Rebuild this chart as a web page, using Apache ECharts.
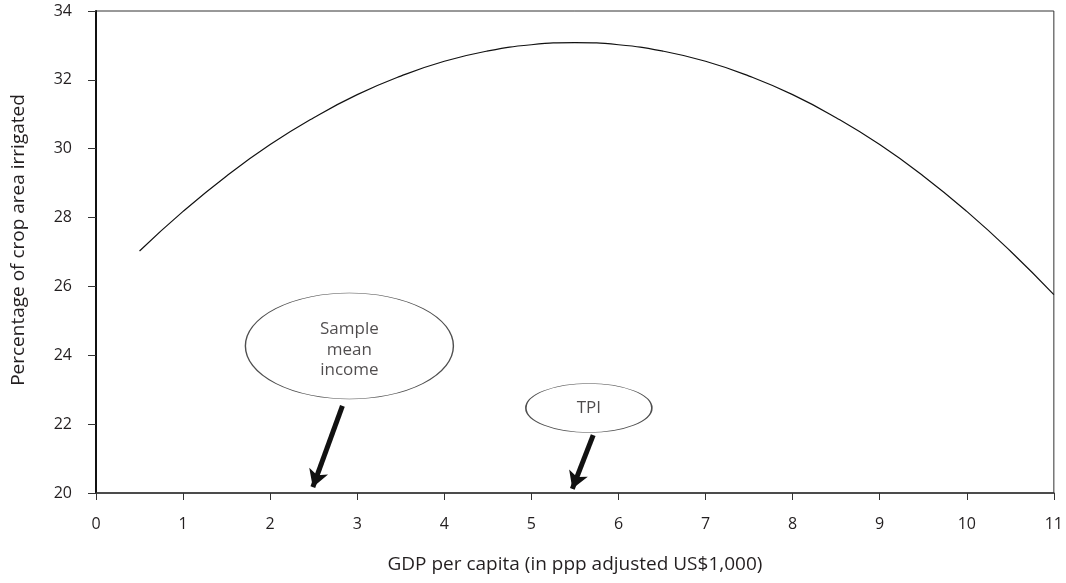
<!DOCTYPE html>
<html>
<head>
<meta charset="utf-8">
<script src="https://cdn.jsdelivr.net/npm/echarts@6/dist/echarts.min.js"></script>
<style>html,body{margin:0;padding:0;background:#fff}#c{width:1066px;height:583px}</style>
</head>
<body>
<div id="c"></div>
<script>
const gdp = [0.5,1,1.5,2,2.5,3,3.5,4,4.5,5,5.5,6,6.5,7,7.5,8,8.5,9,9.5,10,10.5,11];
const irrigated = [27.03,28.18,29.21,30.12,30.90,31.57,32.11,32.54,32.84,33.02,33.08,33.02,32.84,32.54,32.11,31.57,30.90,30.12,29.21,28.18,27.03,25.76];
const xTicks = [0,1,2,3,4,5,6,7,8,9,10,11];
const yTicks = [20,22,24,26,28,30,32,34];
const calloutLabels = ['Sample\nmean\nincome', 'TPI'];
const calloutCenters = [[2.91, 24.27], [5.66, 22.47]];
const arrowStarts = [[2.83, 22.53], [5.71, 21.68]];
const arrowEnds = [[2.49, 20.17], [5.47, 20.12]];

const font = '"Open Sans", "Noto Sans", sans-serif';
const ink = '#231f20';
const chart = echarts.init(document.getElementById('c'), null, {renderer: 'canvas'});
chart.setOption({
  animation: false,
  grid: {left: 96, right: 10, top: 11, bottom: 90, show: true, borderColor: '#333', borderWidth: 1},
  xAxis: {
    type: 'value', min: 0, max: 11, interval: 1,
    name: 'GDP per capita (in ppp adjusted US$1,000)',
    nameLocation: 'middle', nameGap: 62,
    nameTextStyle: {fontFamily: font, fontSize: 19, color: ink},
    axisLine: {show: true, lineStyle: {color: '#333', width: 1.5}},
    axisTick: {show: true, inside: false, length: 7, lineStyle: {color: '#333'}},
    axisLabel: {fontFamily: font, fontSize: 16, color: ink, margin: 23,
      formatter: v => xTicks.includes(v) ? String(v) : ''},
    splitLine: {show: false}
  },
  yAxis: {
    type: 'value', min: 20, max: 34, interval: 2,
    name: 'Percentage of crop area irrigated',
    nameLocation: 'middle', nameGap: 68,
    nameTextStyle: {fontFamily: font, fontSize: 19, color: ink, padding: [0, 0, 0, 24]},
    axisLine: {show: true, lineStyle: {color: '#111', width: 2}},
    axisTick: {show: true, inside: false, length: 8, lineStyle: {color: '#333'}},
    axisLabel: {fontFamily: font, fontSize: 16, color: ink, margin: 24,
      formatter: v => yTicks.includes(v) ? String(v) : ''},
    splitLine: {show: false}
  },
  series: [
    {
      type: 'line', smooth: true, symbol: 'none',
      data: gdp.map((x, i) => [x, irrigated[i]]),
      lineStyle: {color: '#111', width: 1.2},
      z: 2
    },
    {
      type: 'scatter',
      symbol: 'circle',
      data: calloutCenters.map((c, i) => ({
        value: c,
        symbolSize: i === 0 ? [208, 106] : [126, 49],
        label: {formatter: calloutLabels[i], offset: i === 0 ? [0, 4] : [0, 0]}
      })),
      itemStyle: {color: '#fff', borderColor: '#222', borderWidth: 1},
      label: {show: true, position: 'inside', fontFamily: font, fontSize: 17, lineHeight: 20.5, color: ink},
      emphasis: {disabled: true},
      z: 3,
      markLine: {
        silent: true,
        symbol: ['none', 'arrow'],
        symbolSize: [15, 17],
        label: {show: false},
        lineStyle: {color: '#111', width: 5, type: 'solid'},
        data: arrowStarts.map((s, i) => [{coord: s}, {coord: arrowEnds[i]}])
      }
    }
  ]
});
</script>
</body>
</html>
